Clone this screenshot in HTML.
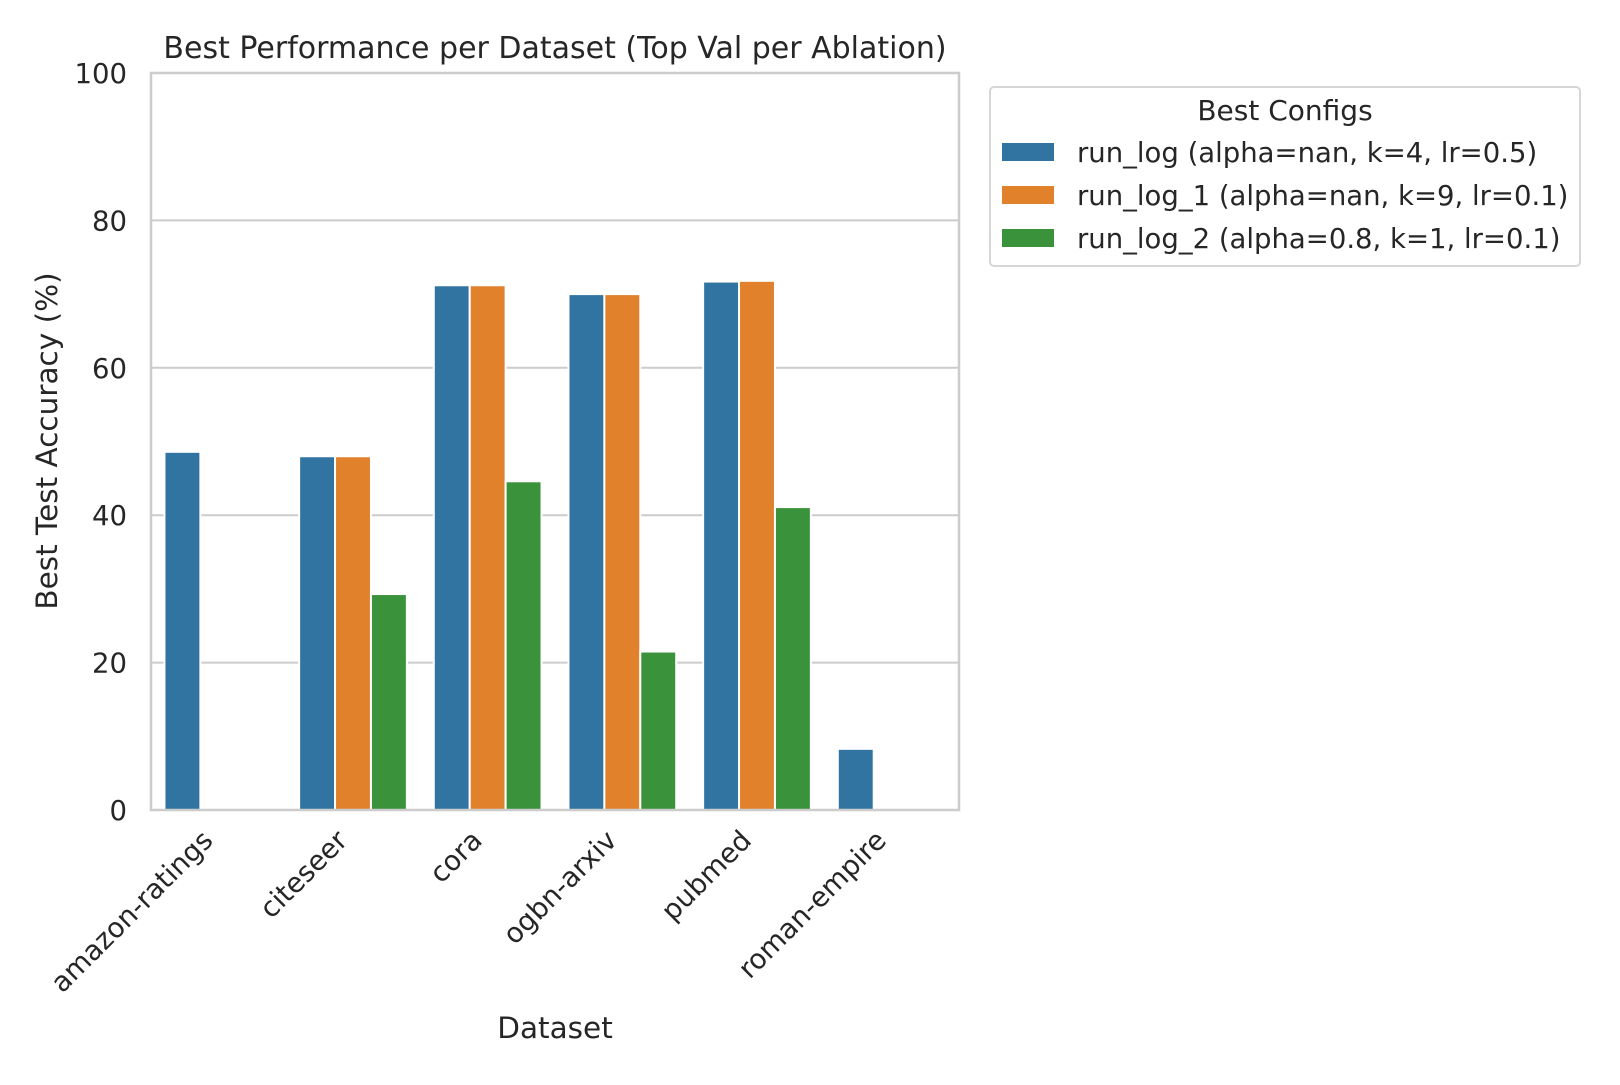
<!DOCTYPE html>
<html><head><meta charset="utf-8"><style>
body{margin:0;background:#fff;}
svg text{font-family:"DejaVu Sans","Liberation Sans",sans-serif;fill:#262626;}
</style></head><body>
<svg id="chart" width="1620" height="1080" xmlns="http://www.w3.org/2000/svg">
<rect width="1620" height="1080" fill="#fff"/>
<g id="grid"></g>
<g id="bars"></g>
<rect x="151" y="73" width="808" height="737" fill="none" stroke="#cccccc" stroke-width="2.5"/>
<g id="yticks"></g>
<g id="xticks"></g>
<text x="555" y="58" font-size="30" text-anchor="middle">Best Performance per Dataset (Top Val per Ablation)</text>
<text x="555" y="1038" font-size="29.5" text-anchor="middle">Dataset</text>
<text transform="translate(57,441) rotate(-90)" font-size="29.5" text-anchor="middle">Best Test Accuracy (%)</text>
<g>
<rect x="990" y="87" width="590" height="179" rx="4" fill="#fff" stroke="#d6d6d6" stroke-width="2"/>
<text x="1285" y="120" font-size="28" text-anchor="middle">Best Configs</text>
<g id="legend-items"></g>
</g>
</svg>
<script>
const categories=["amazon-ratings","citeseer","cora","ogbn-arxiv","pubmed","roman-empire"];
const seriesNames=["run_log (alpha=nan, k=4, lr=0.5)","run_log_1 (alpha=nan, k=9, lr=0.1)","run_log_2 (alpha=0.8, k=1, lr=0.1)"];
const runLog=[48.6,48.0,71.2,70.0,71.7,8.3];
const runLog1=[null,48.0,71.2,70.0,71.8,null];
const runLog2=[null,29.3,44.6,21.5,41.1,null];
const yTicks=[0,20,40,60,80,100];
const colors=["#3274a1","#e1812c","#3a923a"];
const NS="http://www.w3.org/2000/svg";
const X0=151,X1=959,Y0=810,Y1=73;
const gw=(X1-X0)/categories.length;
function yS(v){return Y0-(v/100)*(Y0-Y1);}
function xC(i){return X0+gw*(i+0.5);}
function mk(t,a,p){const e=document.createElementNS(NS,t);for(const k in a)e.setAttribute(k,a[k]);p.appendChild(e);return e;}
const grid=document.getElementById('grid'),yt=document.getElementById('yticks');
yTicks.forEach(v=>{
 if(v>0&&v<100){const l=mk('line',{x1:X0,x2:X1,y1:yS(v),y2:yS(v),stroke:'#cccccc','stroke-width':2},grid);
 
 }
 const t=mk('text',{x:X0-24,y:yS(v)+10,'font-size':27.5,'text-anchor':'end'},yt);t.textContent=v;
 
 
});
const xt=document.getElementById('xticks');
categories.forEach((c,i)=>{
 const x=xC(i)-4,y=842;
 const t=mk('text',{x:x,y:y,'font-size':27.5,'text-anchor':'end',transform:`rotate(-45 ${x} ${y})`},xt);t.textContent=c;
 
 
});
const bars=document.getElementById('bars');
const series=[runLog,runLog1,runLog2];
const bw=gw*0.8/3;
series.forEach((s,j)=>{s.forEach((v,i)=>{
 if(v==null)return;
 const x=xC(i)-gw*0.4+j*bw;
 const r=mk('rect',{x:x,y:yS(v),width:bw,height:Y0-yS(v),fill:colors[j],stroke:'#fff','stroke-width':2},bars);
 
 
});});
const li=document.getElementById('legend-items');
seriesNames.forEach((n,j)=>{
 const y=152+j*43;
 const r=mk('rect',{x:1002,y:y-9,width:52,height:18,fill:colors[j]},li);
 
 
 const t=mk('text',{x:1077,y:y+10,'font-size':27.5},li);t.textContent=n;
 
 
});
</script>
</body></html>
